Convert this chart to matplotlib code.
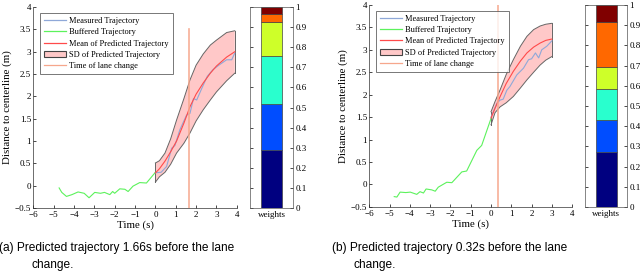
import numpy as np
import matplotlib
matplotlib.use("Agg")
import matplotlib.pyplot as plt
from matplotlib.patches import Patch
from matplotlib.lines import Line2D

# ---- panel (a): 1.66 s before lane change
buf_t_a = [-4.73, -4.6, -4.37, -4.1, -3.8, -3.5, -3.26, -2.98, -2.7, -2.5, -2.24, -2.1, -2.0, -1.9, -1.75, -1.5, -1.34, -1.1, -0.77, -0.44, 0.0]
buf_y_a = [-0.05, -0.15, -0.24, -0.2, -0.14, -0.17, -0.27, -0.15, -0.17, -0.15, -0.2, -0.13, -0.17, -0.13, -0.07, -0.08, -0.13, -0.01, 0.07, 0.06, 0.3]
pred_t_a = [0.0, 0.28, 0.55, 0.8, 0.96, 1.2, 1.53, 1.7, 1.87, 2.03, 2.28, 2.55, 2.83, 3.15, 3.5, 3.75, 3.9]
meas_y_a = [0.29, 0.3, 0.43, 0.84, 0.9, 1.25, 1.58, 1.62, 1.95, 1.92, 2.18, 2.45, 2.6, 2.71, 2.82, 2.82, 2.97]
band_t_a = [0.0, 0.01, 0.2, 0.47, 0.75, 1.04, 1.4, 1.7, 2.0, 2.35, 2.7, 3.0, 3.5, 3.9]
mean_a = [0.29, 0.29, 0.38, 0.55, 0.76, 1.0, 1.4, 1.77, 2.05, 2.3, 2.52, 2.68, 2.88, 3.0]
upper_a = [0.51, 0.51, 0.56, 0.73, 1.05, 1.47, 1.95, 2.37, 2.7, 2.95, 3.15, 3.26, 3.43, 3.47]
lower_a = [0.085, 0.085, 0.2, 0.3, 0.48, 0.73, 0.95, 1.18, 1.45, 1.7, 1.92, 2.1, 2.35, 2.52]
lane_a = 1.66
weights_a = [0.29, 0.23, 0.235, 0.17, 0.04, 0.035]

# ---- panel (b): 0.32 s before lane change
buf_t_b = [-4.77, -4.64, -4.48, -4.2, -3.98, -3.66, -3.5, -3.33, -3.2, -2.92, -2.75, -2.6, -2.18, -1.93, -1.44, -1.2, -0.7, -0.46, 0.0]
buf_y_b = [-0.27, -0.28, -0.17, -0.18, -0.17, -0.22, -0.16, -0.19, -0.1, -0.12, -0.15, -0.06, 0.05, 0.04, 0.28, 0.3, 0.76, 0.87, 1.47]
pred_t_b = [0.0, 0.29, 0.45, 0.6, 0.78, 0.93, 1.27, 1.6, 1.85, 2.0, 2.19, 2.35, 2.5, 2.75, 3.0]
meas_y_b = [1.5, 1.81, 1.88, 1.9, 2.1, 2.18, 2.44, 2.59, 2.78, 2.8, 2.93, 2.82, 3.0, 3.08, 3.2]
band_t_b = [0.0, 0.2, 0.45, 0.75, 1.1, 1.45, 1.77, 2.1, 2.42, 2.7, 3.0]
mean_b = [1.48, 1.7, 1.96, 2.25, 2.52, 2.75, 2.93, 3.06, 3.15, 3.21, 3.24]
upper_b = [1.62, 1.85, 2.11, 2.45, 2.78, 3.08, 3.3, 3.45, 3.53, 3.57, 3.59]
lower_b = [1.33, 1.6, 1.73, 1.82, 1.96, 2.15, 2.33, 2.5, 2.66, 2.77, 2.85]
lane_b = 0.32
weights_b = [0.27, 0.16, 0.155, 0.11, 0.22, 0.085]

captions = ["(a) Predicted trajectory 1.66s before the lane", "(b) Predicted trajectory 0.32s before the lane"]
xticks = [-6, -5, -4, -3, -2, -1, 0, 1, 2, 3, 4]
yticks = [-0.5, 0, 0.5, 1, 1.5, 2, 2.5, 3, 3.5, 4]

plt.rcParams["font.family"] = ["Liberation Serif", "DejaVu Serif"]

c_meas = "#8fa8d8"
c_buf = "#5cf25c"
c_mean = "#ff4a4a"
c_band = "#ffc8c8"
c_lane = "#f6a78c"

fig = plt.figure(figsize=(6.4, 2.73), dpi=100)


def panel(main_rect, w_rect, bt, by, pt, my, bandt, mean, up, lo, lane, lane_top, weights):
    ax = fig.add_axes(main_rect)
    ax.fill_between(bandt, lo, up, facecolor=c_band, edgecolor="none")
    ax.plot(bandt, up, color="#666666", lw=0.7)
    ax.plot(bandt, lo, color="#666666", lw=0.7)
    ax.plot([bandt[0], bandt[0]], [lo[0], up[0]], color="#666666", lw=0.7)
    ax.plot([bandt[-1], bandt[-1]], [lo[-1], up[-1]], color="#666666", lw=0.7)
    ax.plot(bt, by, color=c_buf, lw=0.8)
    ax.plot(pt, my, color=c_meas, lw=0.8)
    ax.plot(bandt, mean, color=c_mean, lw=0.8)
    ax.plot([lane, lane], [-0.5, lane_top], color=c_lane, lw=1.2, alpha=0.9)
    ax.set_xlim(-6, 4)
    ax.set_ylim(-0.5, 4)
    ax.set_xticks(xticks)
    ax.set_xticklabels(["\u2212%d" % -v if v < 0 else "%d" % v for v in xticks])
    ax.set_yticks(yticks)
    ax.set_yticklabels(["\u22120.5" if v == -0.5 else ("%g" % v) for v in yticks])
    ax.tick_params(direction="in", length=2.5, width=0.5, labelsize=6.5, pad=1.5)
    ax.tick_params(axis="x", pad=2.5)
    for s in ["top", "right"]:
        ax.spines[s].set_visible(False)
    for s in ["left", "bottom"]:
        ax.spines[s].set_linewidth(0.5)
        ax.spines[s].set_color("#333333")
    ax.set_xlabel("Time (s)", fontsize=7.8, labelpad=0.5)
    ax.set_ylabel("Distance to centerline (m)", fontsize=7.8, labelpad=2)
    handles = [Line2D([], [], color=c_meas, lw=0.9),
               Line2D([], [], color=c_buf, lw=0.9),
               Line2D([], [], color=c_mean, lw=0.9),
               Patch(facecolor=c_band, edgecolor="#444444", lw=0.8),
               Line2D([], [], color=c_lane, lw=0.9)]
    labels = ["Measured Trajectory", "Buffered Trajectory", "Mean of Predicted Trajectory",
              "SD of Predicted Trajectory", "Time of lane change"]
    leg = ax.legend(handles, labels, loc="upper left", bbox_to_anchor=(0.035, 0.97), fontsize=6.0,
                    frameon=True, fancybox=False, handlelength=2.6, handletextpad=0.4,
                    labelspacing=0.4, borderpad=0.45, borderaxespad=0)
    leg.get_frame().set_edgecolor("#555555")
    leg.get_frame().set_linewidth(0.7)

    wa = fig.add_axes(w_rect)
    bottom = 0
    cols = plt.cm.jet(np.linspace(0, 1, len(weights)))
    for w, c in zip(weights, cols):
        wa.bar(1, w, bottom=bottom, width=1.0, color=c, edgecolor="#444444", lw=0.5)
        bottom += w
    wa.set_xlim(0, 2)
    wa.set_ylim(0, 1)
    wa.set_xticks([1])
    wa.set_xticklabels(["weights"])
    wa.tick_params(axis="x", length=0, labelsize=6.5, pad=2)
    wa.yaxis.tick_right()
    wa.set_yticks(np.arange(0, 1.01, 0.1))
    wa.set_yticklabels(["%g" % round(v, 1) for v in np.arange(0, 1.01, 0.1)])
    wa.tick_params(axis="y", direction="in", length=2, width=0.5, labelsize=6.5, pad=1.5, left=True)
    for s in wa.spines.values():
        s.set_linewidth(0.5)
        s.set_color("#555555")


panel([0.052, 0.238, 0.318, 0.736], [0.391, 0.238, 0.067, 0.736],
      buf_t_a, buf_y_a, pred_t_a, meas_y_a, band_t_a, mean_a, upper_a, lower_a, lane_a, 3.5, weights_a)
panel([0.577, 0.242, 0.317, 0.740], [0.914, 0.242, 0.066, 0.740],
      buf_t_b, buf_y_b, pred_t_b, meas_y_b, band_t_b, mean_b, upper_b, lower_b, lane_b, 4.0, weights_b)

cap = dict(fontsize=8.6, family=["Liberation Sans", "DejaVu Sans"], va="center", ha="left")
fig.text(-0.002, 1 - 248 / 273, captions[0], **cap)
fig.text(32 / 640, 1 - 265 / 273, "change.", **cap)
fig.text(332 / 640, 1 - 248 / 273, captions[1], **cap)
fig.text(353 / 640, 1 - 265 / 273, "change.", **cap)

fig.savefig("out.png", dpi=100)
